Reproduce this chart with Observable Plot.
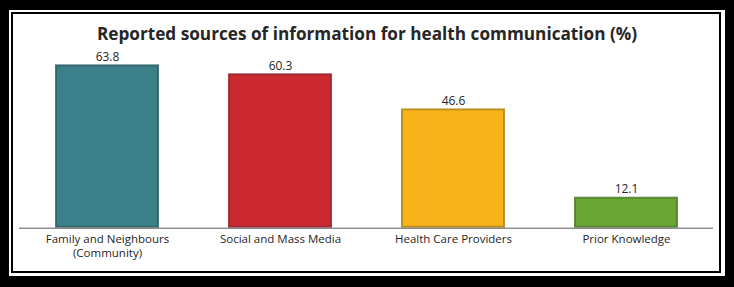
<!DOCTYPE html>
<html>
<head>
<meta charset="utf-8">
<script src="https://cdn.jsdelivr.net/npm/d3@7"></script>
<script src="https://cdn.jsdelivr.net/npm/@observablehq/plot@0.6"></script>
<style>
  html, body { margin: 0; padding: 0; background: #fff; }
  #page { position: relative; width: 734px; height: 287px; background: #000; overflow: hidden; font-family: "Open Sans", "Noto Sans", sans-serif; }
  #white { position: absolute; left: 9px; top: 10px; width: 716px; height: 266px; background: #fff; }
  #inner { position: absolute; left: 11px; top: 12px; width: 710px; height: 261px; border: 2px solid #000; box-sizing: border-box; background: #fff; }
  #title { position: absolute; left: 0; width: 734px; top: 23px; text-align: center; font-weight: 700; font-size: 17.2px; color: #262626; line-height: 22px; }
  #chart { position: absolute; left: 0; top: 0; }
</style>
</head>
<body>
<div id="page">
  <div id="white"></div>
  <div id="inner"></div>
  <div id="title">Reported sources of information for health communication (%)</div>
  <div id="chart"></div>
</div>
<script>
const categories = ["Family and Neighbours (Community)", "Social and Mass Media", "Health Care Providers", "Prior Knowledge"];
const tickLabels = ["Family and Neighbours\n(Community)", "Social and Mass Media", "Health Care Providers", "Prior Knowledge"];
const values = [63.8, 60.3, 46.6, 12.1];
const fillColors = ["#3b7f89", "#c9292f", "#f7b51a", "#6aa634"];
const strokeColors = ["#2b5f66", "#96202a", "#b38515", "#4d7c27"];

const data = categories.map((c, i) => ({category: c, value: values[i]}));

const chart = Plot.plot({
  width: 734,
  height: 287,
  marginLeft: 19,
  marginRight: 21,
  marginTop: 48.5,
  marginBottom: 59.3,
  style: {background: "transparent", fontFamily: "'Open Sans', 'Noto Sans', sans-serif", color: "#262626"},
  x: {domain: categories, paddingInner: 0.4, paddingOuter: 0.2, label: null},
  y: {domain: [0, 70], axis: null},
  color: {domain: categories, range: fillColors},
  marks: [
    Plot.barY(data, {x: "category", y: "value", fill: "category", stroke: d => strokeColors[categories.indexOf(d.category)], strokeWidth: 2, strokeOpacity: 0.85, inset: 1}),
    Plot.ruleY([0], {stroke: "#595959", strokeWidth: 1}),
    Plot.text(data, {x: "category", y: "value", text: d => d.value.toFixed(1), dy: -4, lineAnchor: "bottom", fontSize: 12, fill: "#262626"}),
    Plot.axisX({tickSize: 0, tickPadding: 5, fontSize: 11.5, lineHeight: 1.2, fill: "#262626", tickFormat: d => tickLabels[categories.indexOf(d)]})
  ]
});
document.getElementById("chart").appendChild(chart);
</script>
</body>
</html>
